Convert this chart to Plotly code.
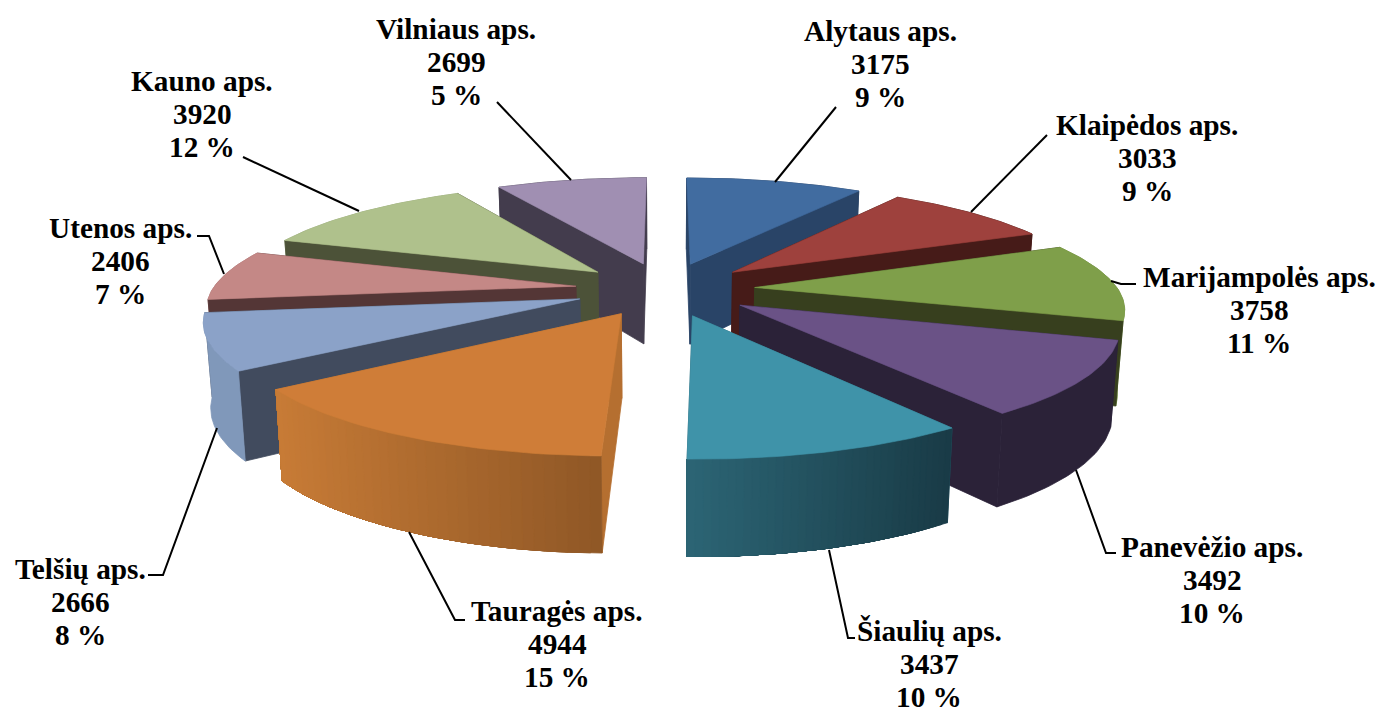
import math
import plotly.graph_objects as go

# ---- data -------------------------------------------------------------
regions = ["Alytaus aps.", "Klaipėdos aps.", "Marijampolės aps.", "Panevėžio aps.", "Šiaulių aps.",
           "Tauragės aps.", "Telšių aps.", "Utenos aps.", "Kauno aps.", "Vilniaus aps."]
values = [3175, 3033, 3758, 3492, 3437, 4944, 2666, 2406, 3920, 2699]
percents = [9, 9, 11, 10, 10, 15, 8, 7, 12, 5]

# ---- styles -----------------------------------------------------------
top_colors = ["#416ca0", "#9e413d", "#7f9f4a", "#6a5286", "#3f93a9",
              "#cf7d38", "#8ba2c8", "#c48886", "#afc18c", "#a08fb2"]
wall_colors = ["#294467", "#461b18", "#373f1e", "#2b2238", "#2b6473",
               "#b56f30", "#414b5e", "#543636", "#4c5238", "#433c4d"]
outer_left = ["#294467", "#461b18", "#6f8c40", "#2b2238", "#2c6575",
              "#c77b36", "#8098ba", "#a87472", "#96a678", "#433c4d"]
outer_right = ["#294467", "#461b18", "#6f8c40", "#2b2238", "#193b46",
               "#8f5726", "#8098ba", "#a87472", "#96a678", "#433c4d"]

# ---- label layout (pixels) --------------------------------------------
label_x = [880, 1147, 1259, 1212, 929, 557, 80, 120, 202, 456]
label_y = [31, 125, 277, 547, 631, 611, 569, 228, 81, 29]
line_step = 33
leaders = [
    [(836, 107), (775, 182)],
    [(1047, 135), (971, 212)],
    [(1111, 281), (1121, 284), (1136, 284)],
    [(1076, 470), (1106, 553), (1116, 553)],
    [(829, 550), (848, 638), (855, 638)],
    [(409, 532), (455, 620), (465, 620)],
    [(217, 428), (163, 575), (148, 575)],
    [(224, 274), (209, 236), (197, 236)],
    [(359, 211), (243, 157)],
    [(571, 180), (497, 102)],
]

# ---- projection of the exploded 3-D pie -------------------------------
CX, CY, RX, RY = 665.0, 289.0, 363.0, 108.6
EXPLODE = 0.248
DEPTH = 82.3


def proj(px, py, bottom=False):
    sx = CX + RX * px / (1 + (0.165 if py < 0 else 0.175) * py)
    sy = CY - RY * py / (1 + 0.17 * py)
    if bottom:
        sy += DEPTH / (1 + 0.125 * py)
        sx = CX + (sx - CX) * 0.984
    return sx, sy


def mix(c1, c2, t):
    a = [int(c1[i:i + 2], 16) for i in (1, 3, 5)]
    b = [int(c2[i:i + 2], 16) for i in (1, 3, 5)]
    return "#%02x%02x%02x" % tuple(round(a[i] + (b[i] - a[i]) * t) for i in range(3))


fig = go.Figure()


def poly(points, color, lw=0.6):
    fig.add_trace(go.Scatter(
        x=[p[0] for p in points] + [points[0][0]],
        y=[p[1] for p in points] + [points[0][1]],
        mode="lines", fill="toself", fillcolor=color,
        line=dict(color=color, width=lw), hoverinfo="skip", showlegend=False))


total = sum(values)
slices = []
acc = 0.0
for i, v in enumerate(values):
    a0 = acc / total * 2 * math.pi
    acc += v
    a1 = acc / total * 2 * math.pi
    slices.append((i, a0, a1, (a0 + a1) / 2))

for i, a0, a1, am in sorted(slices, key=lambda s: -math.cos(s[3])):
    ox, oy = EXPLODE * math.sin(am), EXPLODE * math.cos(am)
    n = 36
    arc = []
    for k in range(n + 1):
        a = a0 + (a1 - a0) * k / n
        arc.append((ox + math.sin(a), oy + math.cos(a)))
    tip = (ox, oy)
    # walls: (mean depth, list of (polygon, colour))
    walls = []
    for end in (arc[0], arc[-1]):
        quad = [proj(*tip), proj(*end), proj(*end, True), proj(*tip, True)]
        walls.append(((tip[1] + end[1]) / 2, [(quad, wall_colors[i])]))
    # outer wall: overlapping layers, each running to the far end of the arc, so no seams
    xs = [proj(*p)[0] for p in arc]
    xmin, xmax = min(xs), max(xs)
    layers = []
    if outer_left[i] == outer_right[i]:
        layers.append(([proj(*p) for p in arc] + [proj(*p, True) for p in reversed(arc)], outer_left[i]))
    else:
        for k in range(n):
            part = arc[k:]
            shape = [proj(*p) for p in part] + [proj(*p, True) for p in reversed(part)]
            t = ((xs[k] + xs[k + 1]) / 2 - xmin) / max(xmax - xmin, 1)
            layers.append((shape, mix(outer_left[i], outer_right[i], t)))
    walls.append((sum(p[1] for p in arc) / len(arc), layers))
    for _, items in sorted(walls, key=lambda w: -w[0]):
        for q, c in items:
            poly(q, c, lw=0.8)
    poly([proj(*tip)] + [proj(*p) for p in arc], top_colors[i])

# leader lines
shapes = []
for pts in leaders:
    path = "M " + " L ".join(f"{x},{y}" for x, y in pts)
    shapes.append(dict(type="path", path=path, xref="x", yref="y",
                       line=dict(color="black", width=2), layer="above"))

# labels
annotations = []
for name, val, pct, lx, ly in zip(regions, values, percents, label_x, label_y):
    for j, line in enumerate([name, str(val), f"{pct} %"]):
        annotations.append(dict(x=lx, y=ly + j * line_step, xref="x", yref="y",
                                text=f"<b>{line}</b>", showarrow=False,
                                xanchor="center", yanchor="middle",
                                font=dict(family="Liberation Serif", size=29.3, color="black")))

fig.update_layout(
    width=1379, height=709, margin=dict(l=0, r=0, t=0, b=0),
    paper_bgcolor="white", plot_bgcolor="white", showlegend=False,
    shapes=shapes, annotations=annotations,
    xaxis=dict(range=[0, 1379], visible=False, fixedrange=True),
    yaxis=dict(range=[709, 0], visible=False, fixedrange=True),
)
fig.write_html("out.html", config={"displayModeBar": False},
               post_script="document.body.style.margin='0';")
